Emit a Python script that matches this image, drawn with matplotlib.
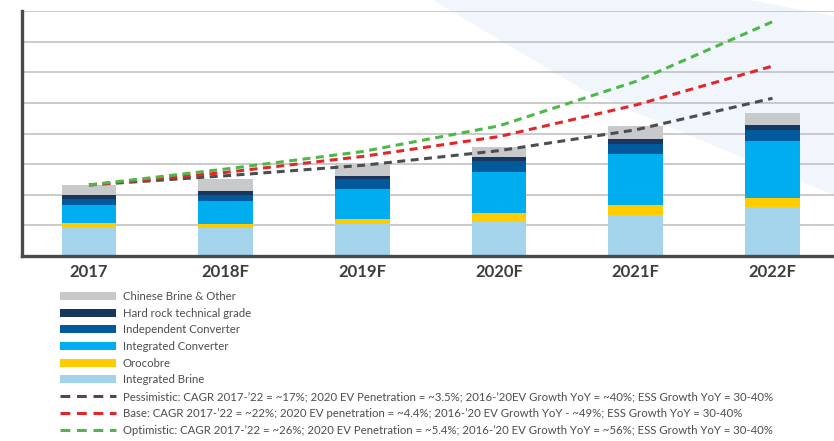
import matplotlib.pyplot as plt
from matplotlib.patches import Patch, Polygon
from matplotlib.lines import Line2D

years = ['2017', '2018F', '2019F', '2020F', '2021F', '2022F']

integrated_brine = [0.95, 0.93, 1.05, 1.14, 1.34, 1.60]
orocobre = [0.12, 0.13, 0.16, 0.27, 0.32, 0.30]
integrated_converter = [0.61, 0.73, 0.98, 1.34, 1.66, 1.87]
independent_converter = [0.17, 0.20, 0.32, 0.35, 0.35, 0.35]
hard_rock = [0.15, 0.13, 0.11, 0.14, 0.15, 0.17]
chinese_brine = [0.31, 0.38, 0.34, 0.32, 0.41, 0.38]

pessimistic = [2.32, 2.62, 2.96, 3.44, 4.12, 5.15]
base = [2.32, 2.73, 3.25, 3.90, 4.93, 6.20]
optimistic = [2.32, 2.84, 3.41, 4.25, 5.70, 7.65]

segments = [
    ('Integrated Brine', integrated_brine, '#a3d4ec'),
    ('Orocobre', orocobre, '#ffcc00'),
    ('Integrated Converter', integrated_converter, '#00aeef'),
    ('Independent Converter', independent_converter, '#005a9c'),
    ('Hard rock technical grade', hard_rock, '#17375e'),
    ('Chinese Brine & Other', chinese_brine, '#c8c9cb'),
]

scenarios = [
    ('Pessimistic: CAGR 2017-\u201922 = ~17%; 2020 EV Penetration = ~3.5%; '
     '2016-\u201920EV Growth YoY = ~40%; ESS Growth YoY = 30-40%', pessimistic, '#4d4d4f'),
    ('Base: CAGR 2017-\u201922 = ~22%; 2020 EV penetration = ~4.4%; '
     '2016-\u201920 EV Growth YoY - ~49%; ESS Growth YoY = 30-40%', base, '#e4262b'),
    ('Optimistic: CAGR 2017-\u201922 = ~26%; 2020 EV Penetration = ~5.4%; '
     '2016-\u201920 EV Growth YoY = ~56%; ESS Growth YoY = 30-40%', optimistic, '#4cb848'),
]

plt.rcParams['font.family'] = ['Lato', 'DejaVu Sans']

fig = plt.figure(figsize=(8.34, 4.41), dpi=100)
W, H = 834, 441
ax = fig.add_axes([22 / W, 1 - 256 / H, 1 - 22 / W, 245 / H])
ax.patch.set_alpha(0)

# light background band in the upper right
band = Polygon([(433 / W, 1), (580 / W, 1 - 88 / H), (700 / W, 1 - 140 / H),
                (834 / W, 1 - 195 / H), (834 / W, 1 - 16 / H), (750 / W, 1)],
               closed=True, transform=fig.transFigure, facecolor='#f0f6fb',
               edgecolor='none', zorder=-1)
fig.patches.append(band)

x = list(range(len(years)))
bottom = [0] * len(years)
for name, vals, color in segments:
    ax.bar(x, vals, width=0.4, bottom=bottom, color=color, zorder=2)
    bottom = [b + v for b, v in zip(bottom, vals)]

for name, vals, color in scenarios:
    ax.plot(x, vals, color=color, lw=2.2, dashes=(2.6, 1.8), zorder=3)

ax.set_xlim(-0.49, 5.45)
ax.set_ylim(0, 8)
ax.set_yticks(range(0, 9))
ax.yaxis.grid(True, color='#bdbdbd', lw=1.1, zorder=1)
ax.set_axisbelow(True)
ax.tick_params(axis='y', left=False, labelleft=False)
ax.tick_params(axis='x', length=0, pad=6)
ax.set_xticks(x)
ax.set_xticklabels(years, fontsize=12, fontweight='bold', color='#3d3d3d')
for s in ['top', 'right']:
    ax.spines[s].set_visible(False)
for s in ['left', 'bottom']:
    ax.spines[s].set_color('#4a4a4a')
    ax.spines[s].set_linewidth(2.4)

handles = []
labels = []
for name, vals, color in segments[::-1]:
    handles.append(Patch(facecolor=color, edgecolor='none'))
    labels.append(name)
for name, vals, color in scenarios:
    handles.append(Line2D([], [], color=color, lw=2.2, dashes=(3.2, 2.2)))
    labels.append(name)

fig.legend(handles, labels, loc='upper left', bbox_to_anchor=(60 / W, 1 - 291 / H),
           frameon=False, fontsize=8.2, handlelength=4.9, handleheight=0.7,
           handletextpad=0.6, labelspacing=0.5, borderpad=0, borderaxespad=0,
           labelcolor='#4d4d4d')

fig.savefig('out.png', dpi=100)
